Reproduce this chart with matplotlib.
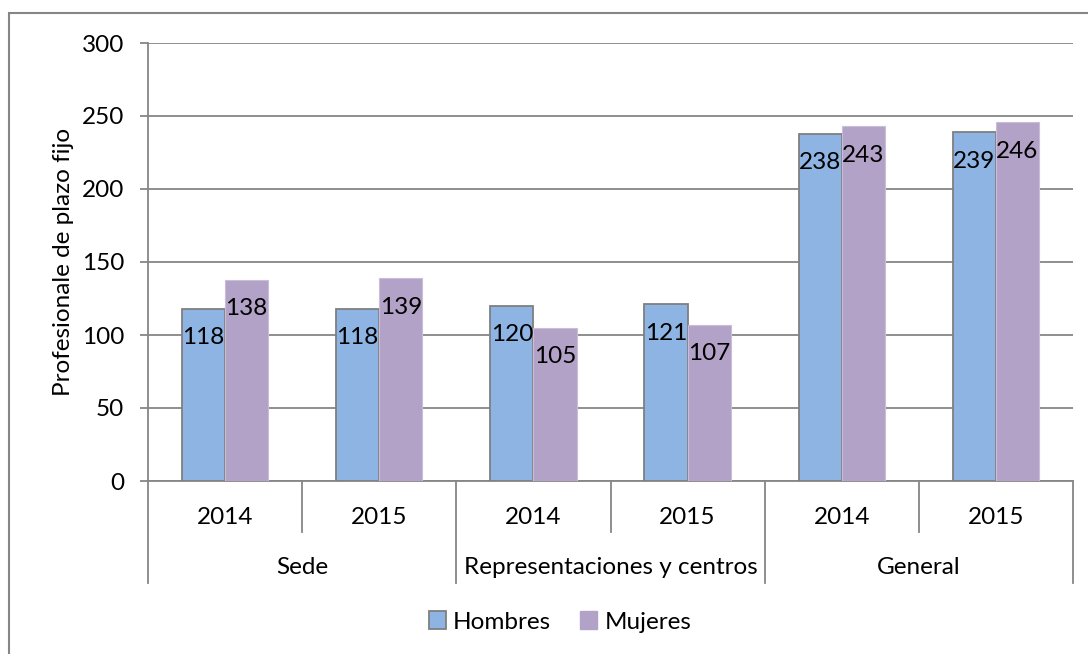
import matplotlib
matplotlib.use("Agg")
import matplotlib.pyplot as plt
from matplotlib.patches import Rectangle, Patch
from matplotlib.lines import Line2D

plt.rcParams['font.family'] = ['Lato', 'DejaVu Sans']

groups = ["Sede", "Representaciones y centros", "General"]
years = ["2014", "2015", "2014", "2015", "2014", "2015"]
hombres = [118, 118, 120, 121, 238, 239]
mujeres = [138, 139, 105, 107, 243, 246]
series_names = ["Hombres", "Mujeres"]
y_label = "Profesionale de plazo fijo"
y_ticks = [0, 50, 100, 150, 200, 250, 300]

c_blue = "#8EB4E3"
c_purple = "#B3A2C7"
c_grid = "#868686"
FS = 17.5

W, H = 1088, 654
fig = plt.figure(figsize=(W / 100, H / 100), dpi=100)

# outer frame
fig.add_artist(Rectangle((9 / W, -0.1), 1.2, 1 - 13 / H + 0.1, transform=fig.transFigure,
                         fill=False, edgecolor="#868686", linewidth=1.5))

L, R, T, B = 148, 1073, 43, 481
ax = fig.add_axes([L / W, 1 - B / H, (R - L) / W, (B - T) / H])
n = len(years)
ax.set_xlim(-0.5, n - 0.5)
ax.set_ylim(0, 300)

bw = 0.28
xs = list(range(n))
ax.bar([x - bw / 2 for x in xs], hombres, width=bw, color=c_blue, edgecolor="#7F7F7F",
       linewidth=1.3, zorder=3)
ax.bar([x + bw / 2 for x in xs], mujeres, width=bw, color=c_purple, edgecolor="#C9BDD9",
       linewidth=0.8, zorder=3)

for x, v in zip(xs, hombres):
    ax.annotate(str(v), (x - bw / 2, v), xytext=(0, -21), textcoords="offset points",
                ha="center", va="center", fontsize=FS, zorder=5)
for x, v in zip(xs, mujeres):
    ax.annotate(str(v), (x + bw / 2, v), xytext=(0, -21), textcoords="offset points",
                ha="center", va="center", fontsize=FS, zorder=5)

ax.set_yticks(y_ticks)
ax.tick_params(axis="y", length=6, width=1.3, color=c_grid, labelsize=FS, pad=11)
ax.yaxis.grid(True, color=c_grid, linewidth=1.3, zorder=0)
ax.set_axisbelow(True)
ax.set_xticks([])
for s in ["top", "right"]:
    ax.spines[s].set_visible(False)
ax.spines["left"].set_color(c_grid)
ax.spines["left"].set_linewidth(1.3)
ax.spines["bottom"].set_color(c_grid)
ax.spines["bottom"].set_linewidth(1.3)
ax.set_ylabel(y_label, fontsize=FS, labelpad=6)

# category axis: year labels and separators
trans = ax.get_xaxis_transform()
year_bottom = -(532 - B) / (B - T)
group_bottom = -(583 - B) / (B - T)
year_y = -(517 - B) / (B - T)
group_y = -(567 - B) / (B - T)
for i in range(n + 1):
    xb = i - 0.5
    yb = group_bottom if i % 2 == 0 else year_bottom
    ax.add_line(Line2D([xb, xb], [0, yb], transform=trans, color=c_grid, linewidth=1.3,
                       clip_on=False))
for i, yr in enumerate(years):
    ax.text(i, year_y, yr, transform=trans, ha="center", va="center", fontsize=FS)
for g, name in enumerate(groups):
    ax.text(2 * g + 0.5, group_y, name, transform=trans, ha="center", va="center", fontsize=FS)

handles = [Patch(facecolor=c_blue, edgecolor="#7F7F7F", linewidth=1.3),
           Patch(facecolor=c_purple, edgecolor=c_purple)]
fig.legend(handles, series_names, loc="center", bbox_to_anchor=(560 / W, 1 - 622 / H),
           ncol=2, frameon=False, fontsize=FS, handlelength=0.7, handleheight=0.7,
           handletextpad=0.3, columnspacing=1.2)

fig.savefig("out.png", dpi=100)
